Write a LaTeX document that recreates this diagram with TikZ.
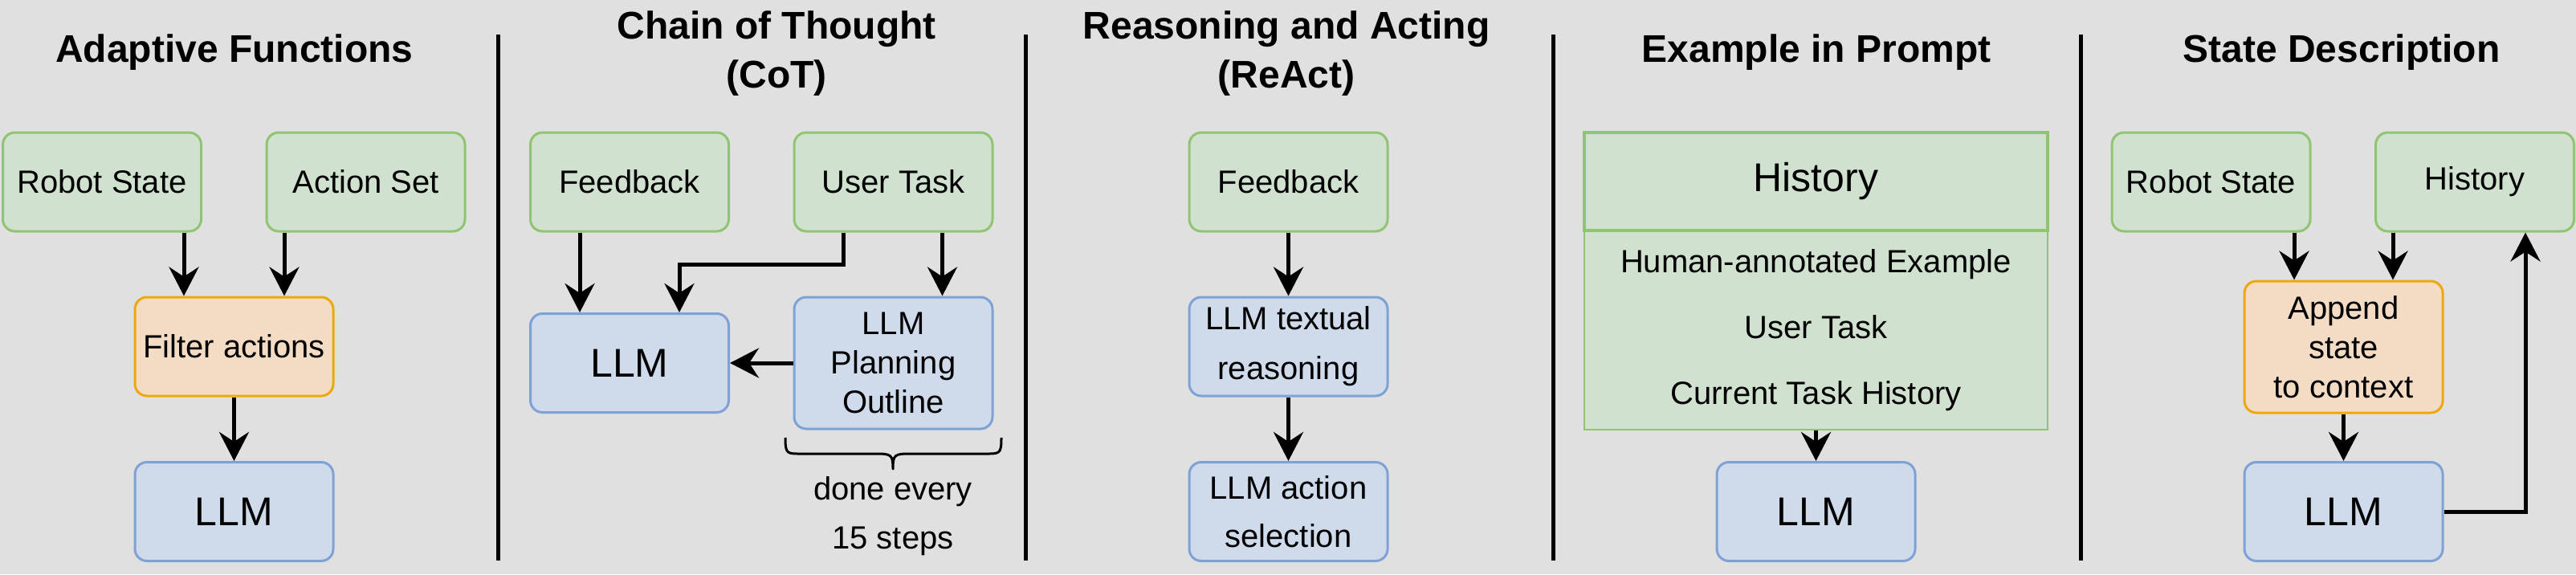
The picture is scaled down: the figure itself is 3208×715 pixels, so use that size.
\documentclass[tikz,border=0pt]{standalone}
\usepackage{fontspec}
\setmainfont{Liberation Sans}
\usetikzlibrary{arrows.meta}
\definecolor{bgc}{HTML}{E0E0E0}
\definecolor{gfill}{HTML}{D0E1CF}
\definecolor{gline}{HTML}{91C472}
\definecolor{bfill}{HTML}{CFDAEB}
\definecolor{bline}{HTML}{7EA2D6}
\definecolor{ofill}{HTML}{F3DCC3}
\definecolor{oline}{HTML}{EDA80E}
\begin{document}
\begin{tikzpicture}[x=1pt,y=-1pt,
  box/.style={draw, rounded corners=15pt, line width=3pt, minimum width=247pt, minimum height=123pt, inner sep=0pt, align=center, font=\fontsize{40}{49}\selectfont},
  grn/.style={box, fill=gfill, draw=gline},
  blu/.style={box, fill=bfill, draw=bline},
  org/.style={box, fill=ofill, draw=oline},
  llmtxt/.style={font=\fontsize{50}{60}\selectfont},
  arr/.style={line width=5pt, -{Stealth[length=36pt,width=37pt,inset=12pt]}},
  sepline/.style={line width=5pt},
  ttl/.style={font=\bfseries\fontsize{48}{61}\selectfont, align=center, inner sep=0pt, anchor=base},
]
\useasboundingbox[fill=bgc] (0,0) rectangle (3208,715);

% separators
\draw[sepline] (620,43) -- (620,698);
\draw[sepline] (1277,43) -- (1277,698);
\draw[sepline] (1934,43) -- (1934,698);
\draw[sepline] (2591,43) -- (2591,698);

% titles (base anchor = baseline of last line)
\node[ttl] (t1) at (292,77) {Adaptive Functions};
\node[ttl] (t2) at (967,109) {Chain of Thought\\(CoT)};
\node[ttl] (t3) at (1602,109) {Reasoning and Acting\\(ReAct)};
\node[ttl] (t4) at (2262,77) {Example in Prompt};
\node[ttl] (t5) at (2916,77) {State Description};

% column 1
\node[grn] (rs1) at (127,226.5) {Robot State};
\node[grn] (as1) at (455.5,226.5) {Action Set};
\node[org] (fa1) at (291.5,431.5) {Filter actions};
\node[blu, llmtxt] (llm1) at (291.5,637) {LLM};
\draw[arr] ([xshift=102pt]rs1.south) -- ([xshift=-62.5pt]fa1.north);
\draw[arr] ([xshift=-101.5pt]as1.south) -- ([xshift=62.5pt]fa1.north);
\draw[arr] (fa1.south) -- (llm1.north);

% column 2
\node[grn] (fb2) at (784,226.5) {Feedback};
\node[grn] (ut2) at (1112.5,226.5) {User Task};
\node[blu, llmtxt] (llm2) at (784,452) {LLM};
\node[blu, minimum height=164pt] (po2) at (1112.5,452) {LLM\\Planning\\Outline};
\draw[arr] ([xshift=-62pt]fb2.south) -- ([xshift=-62pt]llm2.north);
\draw[arr] ([xshift=-62.5pt]ut2.south) -- ++(0,40) -| ([xshift=62pt]llm2.north);
\draw[arr] ([xshift=61pt]ut2.south) -- ([xshift=61pt]po2.north);
\draw[arr] (po2.west) -- (llm2.east);
\draw[line width=3pt, line join=round]
  (978,545) .. controls (978,566) and (980,565) .. (1000,565) -- (1090,565)
  .. controls (1110,565) and (1112,566) .. (1112,584)
  .. controls (1112,566) and (1114,565) .. (1134,565) -- (1225,565)
  .. controls (1245,565) and (1247,566) .. (1247,545);
\node[align=center, inner sep=0pt, anchor=base, font=\fontsize{40}{61}\selectfont] (note2) at (1112,683) {done every\\15 steps};

% column 3
\node[grn] (fb3) at (1604.5,226.5) {Feedback};
\node[blu, font=\fontsize{40}{62}\selectfont] (lr3) at (1604.5,431.5) {LLM textual\\reasoning};
\node[blu, font=\fontsize{40}{60}\selectfont] (la3) at (1604.5,637) {LLM action\\selection};
\draw[arr] (fb3.south) -- (lr3.north);
\draw[arr] (lr3.south) -- (la3.north);

% column 4
\node[draw=gline, fill=gfill, line width=2pt, minimum width=577pt, minimum height=248pt, inner sep=0pt, align=center, font=\fontsize{40}{82}\selectfont] (tb4) at (2261.5,411) {Human-annotated Example\\User Task\\Current Task History};
\node[draw=gline, fill=gfill, line width=4pt, minimum width=577pt, minimum height=122pt, inner sep=0pt, font=\fontsize{50}{60}\selectfont] (hd4) at (2261.5,226) {History};
\node[blu, llmtxt] (llm4) at (2261.5,637) {LLM};
\draw[arr] (tb4.south) -- (llm4.north);

% column 5
\node[grn] (rs5) at (2753.5,226.5) {Robot State};
\node[grn] (h5) at (3082,226.5) {History};
\node[org, minimum height=164pt] (ap5) at (2918.5,432) {Append\\state\\to context};
\node[blu, llmtxt] (llm5) at (2918.5,637) {LLM};
\draw[arr] ([xshift=103.5pt]rs5.south) -- ([xshift=-61.5pt]ap5.north);
\draw[arr] ([xshift=-102pt]h5.south) -- ([xshift=61.5pt]ap5.north);
\draw[arr] (ap5.south) -- (llm5.north);
\draw[arr] (llm5.east) -| ([xshift=63pt]h5.south);
\end{tikzpicture}
\end{document}
